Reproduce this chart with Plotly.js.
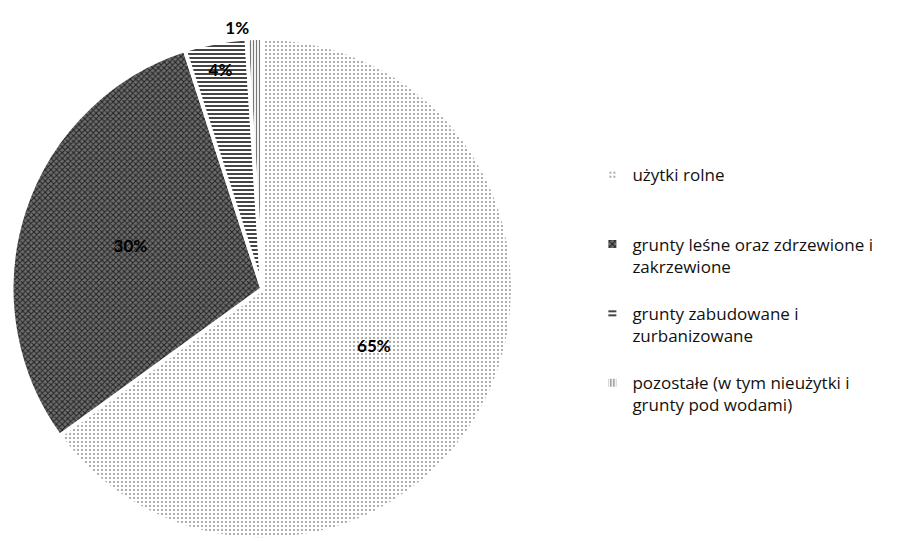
<!DOCTYPE html>
<html>
<head>
<meta charset="utf-8">
<script src="https://cdn.plot.ly/plotly-3.0.1.min.js"></script>
<style>html,body{margin:0;padding:0;background:#fff;}#chart{width:917px;height:542px;}</style>
</head>
<body>
<div id="chart"></div>
<script>
const categories = [
  "użytki rolne<br> <br> ",
  "grunty leśne oraz zdrzewione i<br>zakrzewione<br> ",
  "grunty zabudowane i<br>zurbanizowane<br> ",
  "pozostałe (w tym nieużytki i<br>grunty pod wodami)"
];
const shares = [65, 30, 4, 1];

const trace = {
  type: 'pie',
  labels: categories,
  values: shares,
  sort: false,
  direction: 'clockwise',
  rotation: 0,
  textinfo: 'percent',
  textposition: ['inside', 'inside', 'inside', 'outside'],
  insidetextorientation: 'horizontal',
  textfont: {family: 'Lato, sans-serif', size: 17, color: '#000', weight: 700},
  outsidetextfont: {family: 'Lato, sans-serif', size: 17, color: '#000', weight: 700},
  marker: {
    colors: ['#ffffff', '#777777', '#ffffff', '#ffffff'],
    line: {color: '#ffffff', width: 4},
    pattern: {
      shape: ['.', 'x', '-', '|'],
      fgcolor: ['#9a9a9a', '#222222', '#444444', '#777777'],
      bgcolor: ['#ffffff', '#6e6e6e', '#ffffff', '#ffffff'],
      size: [4, 4, 4, 3],
      solidity: [0.22, 0.45, 0.5, 0.4]
    }
  },
  domain: {x: [0.012, 0.560], y: [0.005, 0.93]},
  hoverinfo: 'label+percent',
  showlegend: true
};

const layout = {
  width: 917,
  height: 542,
  margin: {l: 0, r: 0, t: 0, b: 0},
  paper_bgcolor: '#ffffff',
  plot_bgcolor: '#ffffff',
  font: {family: 'Open Sans, sans-serif', size: 17, color: '#000'},
  showlegend: true,
  legend: {
    x: 0.646,
    y: 0.71,
    xanchor: 'left',
    yanchor: 'top',
    valign: 'top',
    font: {family: 'Open Sans, sans-serif', size: 17, color: '#111'},
    itemwidth: 30,
    bgcolor: 'rgba(0,0,0,0)'
  }
};

Plotly.newPlot('chart', [trace], layout, {displayModeBar: false, staticPlot: true});
</script>
</body>
</html>
